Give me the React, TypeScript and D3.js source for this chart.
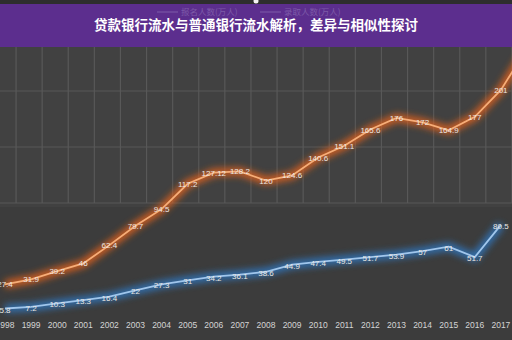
import React from "react";
import * as d3 from "d3";

const years = [1998, 1999, 2000, 2001, 2002, 2003, 2004, 2005, 2006, 2007, 2008, 2009, 2010, 2011, 2012, 2013, 2014, 2015, 2016, 2017, 2018];
const applicants = [27.4, 31.9, 39.2, 46, 62.4, 79.7, 94.5, 117.2, 127.12, 128.2, 120, 124.6, 140.6, 151.1, 165.6, 176, 172, 164.9, 177, 201, 238];
const admitted: (number | null)[] = [5.8, 7.2, 10.3, 13.3, 16.4, 22, 27.3, 31, 34.2, 36.1, 38.6, 44.9, 47.4, 49.5, 51.7, 53.9, 57, 61, 51.7, 80.5, null];
const gridValues = [100, 150, 200];
const title = "贷款银行流水与普通银行流水解析，差异与相似性探讨";
const legendLabels = ["报名人数(万人)", "录取人数(万人)"];

const W = 512;
const H = 340;

export default function App() {
  const x = d3.scalePoint<number>().domain(years).range([5, 5 + 20 * 26.1]);
  const y = d3.scaleLinear().domain([0, 200]).range([315, 91]);
  const step = x.step();

  const lineA = d3
    .line<number>()
    .x((_, i) => x(years[i]) as number)
    .y((d) => y(d));
  const lineB = d3
    .line<number | null>()
    .defined((d) => d !== null)
    .x((_, i) => x(years[i]) as number)
    .y((d) => y(d as number));

  const gridTop = 47;
  const gridBottom = y(100);

  return (
    <svg width={W} height={H} style={{ position: "absolute", left: 0, top: 0, display: "block" }}>
      <defs>
        <filter id="glowO" x="-20%" y="-50%" width="140%" height="200%">
          <feGaussianBlur stdDeviation="3.5" />
        </filter>
        <filter id="glowB" x="-20%" y="-50%" width="140%" height="200%">
          <feGaussianBlur stdDeviation="3.5" />
        </filter>
        <clipPath id="clip">
          <rect x={0} y={47} width={W} height={H - 47} />
        </clipPath>
      </defs>
      <rect x={0} y={0} width={W} height={H} fill="#414141" />
      <rect x={0} y={gridBottom + 4} width={W} height={H - gridBottom} fill="#3c3c3c" />
      {/* grid */}
      <g stroke="#585858" strokeWidth={1.2}>
        {years.map((yr) => (
          <line
            key={"v" + yr}
            x1={(x(yr) as number) + step / 2 - 2}
            x2={(x(yr) as number) + step / 2 - 2}
            y1={gridTop}
            y2={gridBottom}
          />
        ))}
        {gridValues.map((v) => (
          <line key={"h" + v} x1={0} x2={W} y1={y(v)} y2={y(v)} />
        ))}
      </g>
      <g clipPath="url(#clip)">
        <path d={lineA(applicants) || ""} fill="none" stroke="#e2621a" strokeWidth={8} opacity={0.9} filter="url(#glowO)" />
        <path d={lineA(applicants) || ""} fill="none" stroke="#f6ad78" strokeWidth={1.8} />
        <path d={lineB(admitted) || ""} fill="none" stroke="#2f7fd0" strokeWidth={8} opacity={0.8} filter="url(#glowB)" />
        <path d={lineB(admitted) || ""} fill="none" stroke="#a0c6ec" strokeWidth={1.8} />
        <g fontFamily="'Liberation Sans', Arial, sans-serif" fontSize={8} fill="#ece8e4" textAnchor="middle">
          {applicants.map((v, i) => (
            <text key={"a" + i} x={x(years[i]) as number} y={y(v) + 3}>
              {v}
            </text>
          ))}
          {admitted.map((v, i) =>
            v === null ? null : (
              <text key={"b" + i} x={x(years[i]) as number} y={y(v) + 4}>
                {v}
              </text>
            )
          )}
        </g>
      </g>
      {/* x axis labels */}
      <g fontFamily="'Liberation Sans', Arial, sans-serif" fontSize={8.5} fill="#d4d4d4" textAnchor="middle">
        {years.map((yr) => (
          <text key={"t" + yr} x={x(yr) as number} y={328}>
            {yr}
          </text>
        ))}
      </g>
      {/* header */}
      <rect x={0} y={0} width={W} height={47} fill="#5c2e8e" />
      <rect x={0} y={0} width={W} height={4} fill="#2e2e2e" />
      <circle cx={256} cy={1} r={2.5} fill="#f4f4f4" />
      <g fontFamily="'Noto Sans CJK SC', sans-serif" fontSize={8.5} fill="#7d5aa8">
        <line x1={157} x2={178} y1={12} y2={12} stroke="#7d5aa8" strokeWidth={1} />
        <text x={181} y={15}>{legendLabels[0]}</text>
        <line x1={260} x2={281} y1={12} y2={12} stroke="#7d5aa8" strokeWidth={1} />
        <text x={284} y={15}>{legendLabels[1]}</text>
      </g>
      <text
        x={256}
        y={30}
        textAnchor="middle"
        fontFamily="'Noto Sans CJK SC', sans-serif"
        fontWeight="bold"
        fontSize={13.5}
        fill="#ffffff"
      >
        {title}
      </text>
    </svg>
  );
}
